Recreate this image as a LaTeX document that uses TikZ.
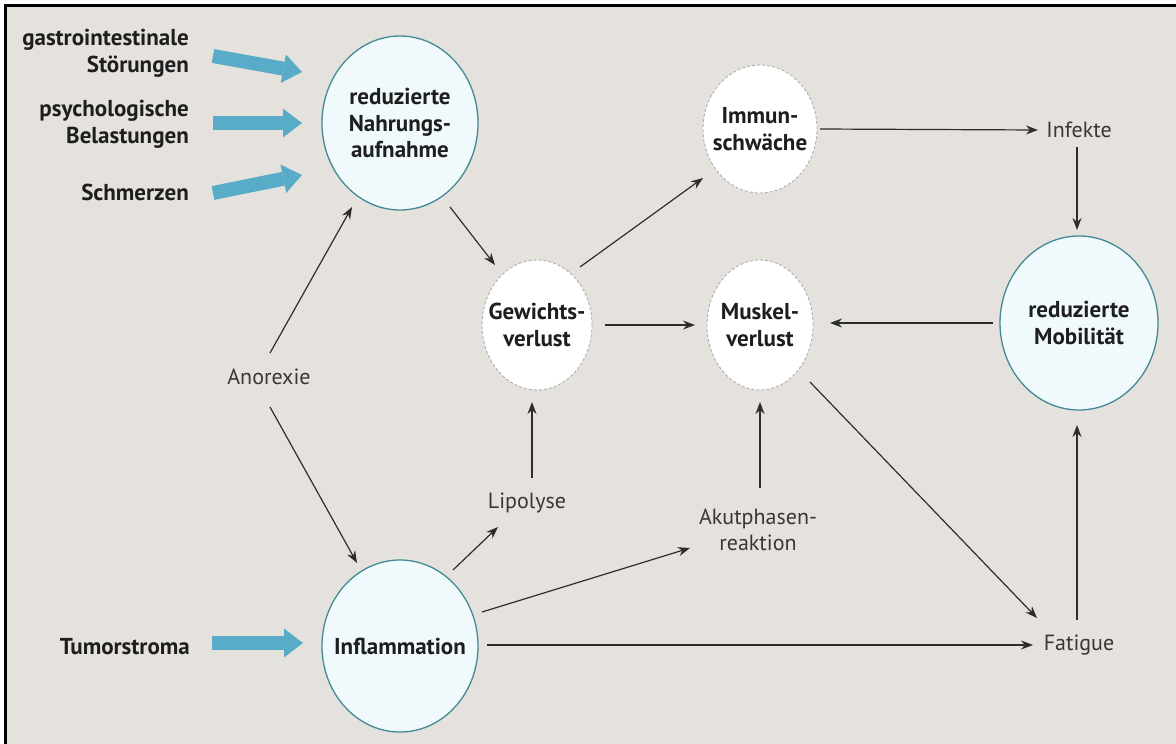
\documentclass[tikz,border=0pt]{standalone}
\usepackage{fontspec}
\setmainfont{PT Sans}
\usetikzlibrary{shapes.geometric,arrows.meta}
\definecolor{bgc}{RGB}{229,226,221}
\definecolor{cfill}{RGB}{240,250,252}
\definecolor{tealc}{RGB}{66,138,150}
\definecolor{bluec}{RGB}{88,172,200}
\definecolor{txtc}{RGB}{30,30,30}
\definecolor{lblc}{RGB}{55,55,55}
\definecolor{arrc}{RGB}{45,45,45}
\definecolor{dashc}{RGB}{175,175,175}
\begin{document}
\begin{tikzpicture}[x=1pt,y=-1pt,
  solidc/.style={ellipse, draw=tealc, line width=1.3pt, fill=cfill, inner sep=-20pt,
    align=center, text=txtc, font=\fontsize{23}{26.5}\selectfont\bfseries},
  dashcirc/.style={ellipse, draw=dashc, dash pattern=on 3pt off 2pt, line width=0.9pt, fill=white,
    inner sep=-20pt, align=center, text=txtc, font=\fontsize{23}{27}\selectfont\bfseries},
  lbl/.style={text=lblc, align=center, inner sep=1pt, font=\fontsize{22}{26.5}\selectfont},
  inp/.style={text=txtc, align=right, anchor=east, inner sep=0pt, font=\fontsize{23}{27}\selectfont\bfseries},
  arr/.style={draw=arrc, line width=1.2pt, -{Stealth[length=12pt,width=9pt]}},
  fatarr/.style={draw=bluec, line width=14pt, -{Triangle[length=19pt,width=29pt,line width=0pt]}},
]
\useasboundingbox (0,0) rectangle (1176,744);
\fill[white] (0,0) rectangle (1176,744);
\fill[bgc] (5,5) rectangle (1176,744);
\draw[black, line width=3pt] (5,744) -- (5,5) -- (1176,5);

% circles
\node[solidc, minimum width=156pt, minimum height=174pt] (rn) at (400,123) {reduzierte\\Nahrungs-\\aufnahme};
\node[dashcirc, minimum width=114pt, minimum height=128pt] (imm) at (760,129) {Immun-\\schwäche};
\node[dashcirc, minimum width=110pt, minimum height=130pt] (gew) at (537,325) {Gewichts-\\verlust};
\node[dashcirc, minimum width=106pt, minimum height=130pt] (musk) at (760,325) {Muskel-\\verlust};
\node[solidc, minimum width=158pt, minimum height=174pt] (mob) at (1079,323) {reduzierte\\Mobilität};
\node[solidc, minimum width=156pt, minimum height=172pt] (infl) at (400,646) {Inflammation};

% text labels
\node[lbl] (anor) at (269,377) {Anorexie};
\node[lbl] (infk) at (1079,130) {Infekte};
\node[lbl] (lipo) at (527,503) {Lipolyse};
\node[lbl] (akut) at (758,530) {Akutphasen-\\reaktion};
\node[lbl] (fat) at (1079,645) {Fatigue};

% input labels
\node[inp] (gastro) at (189,53) {gastrointestinale\\Störungen};
\node[inp] (psych) at (189,124) {psychologische\\Belastungen};
\node[inp] (schm) at (189,192) {Schmerzen};
\node[inp] (tumor) at (190,647) {Tumorstroma};

% blue input arrows
\coordinate (b1s) at (213,56); \coordinate (b1e) at (302,72);
\coordinate (b2s) at (213,123); \coordinate (b2e) at (302,123);
\coordinate (b3s) at (213,193); \coordinate (b3e) at (302,175);
\coordinate (b4s) at (212,643); \coordinate (b4e) at (303,643);
\draw[fatarr] (b1s) -- (b1e);
\draw[fatarr] (b2s) -- (b2e);
\draw[fatarr] (b3s) -- (b3e);
\draw[fatarr] (b4s) -- (b4e);

% black arrows
\draw[arr] ([shift={(1,-24)}]anor.center) -- ([shift={(-48,84)}]rn.center);
\draw[arr] ([shift={(1,30)}]anor.center) -- ([shift={(-43,-83)}]infl.center);
\draw[arr] ([shift={(50,84)}]rn.center) -- ([shift={(-42,-60)}]gew.center);
\draw[arr] ([shift={(43,-58)}]gew.center) -- ([shift={(-57,49)}]imm.center);
\draw[arr] ([shift={(68,0)}]gew.center) -- ([shift={(-65,0)}]musk.center);
\draw[arr] ([shift={(60,0)}]imm.center) -- ([shift={(-41,0)}]infk.center);
\draw[arr] ([shift={(-2,17)}]infk.center) -- ([shift={(-2,-93)}]mob.center);
\draw[arr] ([shift={(-86,0)}]mob.center) -- ([shift={(70,-2)}]musk.center);
\draw[arr] ([shift={(50,57)}]musk.center) -- ([shift={(-42,-27)}]fat.center);
\draw[arr] ([shift={(-2,-25)}]fat.center) -- ([shift={(-2,102)}]mob.center);
\draw[arr] ([shift={(5,-25)}]lipo.center) -- ([shift={(-5,77)}]gew.center);
\draw[arr] ([shift={(2,-42)}]akut.center) -- ([shift={(0,77)}]musk.center);
\draw[arr] ([shift={(53,-76)}]infl.center) -- ([shift={(-29,24)}]lipo.center);
\draw[arr] ([shift={(82,-34)}]infl.center) -- ([shift={(-68,18)}]akut.center);
\draw[arr] ([shift={(87,-1)}]infl.center) -- ([shift={(-46,0)}]fat.center);
\end{tikzpicture}
\end{document}
